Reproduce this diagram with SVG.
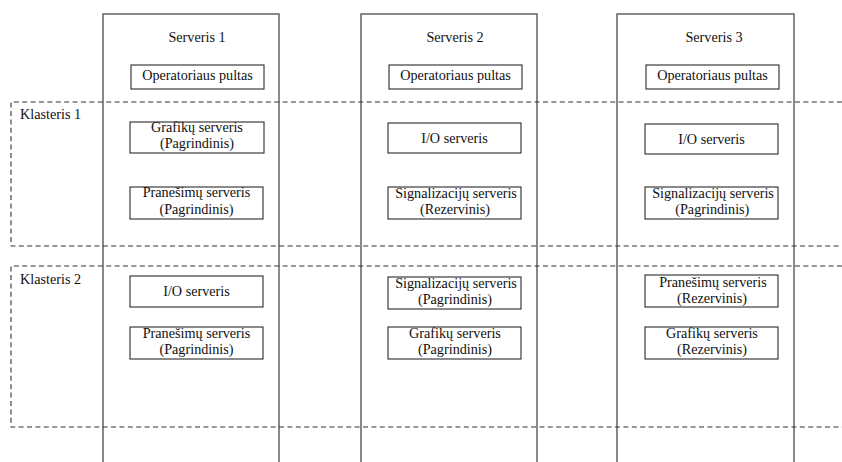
<svg xmlns="http://www.w3.org/2000/svg" width="842" height="462" viewBox="0 0 842 462">
  <style>
    .col { fill: none; stroke: #4a4a4a; stroke-width: 1.3; }
    .box { fill: #fff; stroke: #2a2a2a; stroke-width: 1.1; }
    .cl { fill: none; stroke: #333; stroke-width: 1.1; stroke-dasharray: 5 3.4; }
    text { font-family: "Liberation Serif", "Times New Roman", serif; font-size: 14.2px; fill: #111; }
    .c { text-anchor: middle; }
  </style>
  <rect width="842" height="462" fill="#fff"/>

  <!-- server columns -->
  <g id="serveris-1">
    <rect class="col" x="103" y="14" width="176" height="460"/>
    <text class="c" x="197" y="42">Serveris 1</text>
  </g>
  <g id="serveris-2">
    <rect class="col" x="361" y="14" width="176" height="460"/>
    <text class="c" x="455" y="42">Serveris 2</text>
  </g>
  <g id="serveris-3">
    <rect class="col" x="617" y="14" width="177" height="460"/>
    <text class="c" x="714" y="42">Serveris 3</text>
  </g>

  <!-- cluster boundaries (open to the right edge) -->
  <g id="klasteris-1">
    <path class="cl" d="M842,102 H11 V246 H842"/>
    <text x="20" y="119">Klasteris 1</text>
  </g>
  <g id="klasteris-2">
    <path class="cl" d="M842,266 H11 V427 H842"/>
    <text x="20" y="284">Klasteris 2</text>
  </g>

  <!-- Serveris 1 services -->
  <g id="s1-operatorius">
    <rect class="box" x="131" y="65" width="133" height="24"/>
    <text class="c" x="197.5" y="80">Operatoriaus pultas</text>
  </g>
  <g id="s1-grafiku">
    <rect class="box" x="130" y="122" width="134" height="31"/>
    <text class="c" x="197" y="132.3">Grafikų serveris</text>
    <text class="c" x="197" y="148.3">(Pagrindinis)</text>
  </g>
  <g id="s1-pranesimu-k1">
    <rect class="box" x="130" y="187" width="133" height="32"/>
    <text class="c" x="196.5" y="197.3">Pranešimų serveris</text>
    <text class="c" x="196.5" y="213.5">(Pagrindinis)</text>
  </g>
  <g id="s1-io">
    <rect class="box" x="130" y="276" width="133" height="31"/>
    <text class="c" x="196.5" y="296">I/O serveris</text>
  </g>
  <g id="s1-pranesimu-k2">
    <rect class="box" x="130" y="327" width="133" height="32"/>
    <text class="c" x="196.5" y="337.7">Pranešimų serveris</text>
    <text class="c" x="196.5" y="354">(Pagrindinis)</text>
  </g>

  <!-- Serveris 2 services -->
  <g id="s2-operatorius">
    <rect class="box" x="389" y="65" width="133" height="24"/>
    <text class="c" x="455.5" y="80">Operatoriaus pultas</text>
  </g>
  <g id="s2-io">
    <rect class="box" x="388" y="123" width="133" height="30"/>
    <text class="c" x="454.5" y="143">I/O serveris</text>
  </g>
  <g id="s2-signalizaciju-k1">
    <rect class="box" x="388" y="187" width="133" height="32"/>
    <text class="c" x="456" y="197.5">Signalizacijų serveris</text>
    <text class="c" x="455" y="213.5">(Rezervinis)</text>
  </g>
  <g id="s2-signalizaciju-k2">
    <rect class="box" x="388" y="277" width="133" height="32"/>
    <text class="c" x="456" y="288">Signalizacijų serveris</text>
    <text class="c" x="455" y="304">(Pagrindinis)</text>
  </g>
  <g id="s2-grafiku">
    <rect class="box" x="388" y="327" width="133" height="32"/>
    <text class="c" x="455" y="337.7">Grafikų serveris</text>
    <text class="c" x="455" y="354">(Pagrindinis)</text>
  </g>

  <!-- Serveris 3 services -->
  <g id="s3-operatorius">
    <rect class="box" x="646" y="65" width="133" height="24"/>
    <text class="c" x="712.5" y="80">Operatoriaus pultas</text>
  </g>
  <g id="s3-io">
    <rect class="box" x="645" y="124" width="133" height="30"/>
    <text class="c" x="711.5" y="143.5">I/O serveris</text>
  </g>
  <g id="s3-signalizaciju">
    <rect class="box" x="645" y="187" width="133" height="32"/>
    <text class="c" x="713" y="197.5">Signalizacijų serveris</text>
    <text class="c" x="712.3" y="213.5">(Pagrindinis)</text>
  </g>
  <g id="s3-pranesimu">
    <rect class="box" x="645" y="275" width="133" height="32"/>
    <text class="c" x="713" y="286.7">Pranešimų serveris</text>
    <text class="c" x="712" y="302.7">(Rezervinis)</text>
  </g>
  <g id="s3-grafiku">
    <rect class="box" x="645" y="327" width="133" height="32"/>
    <text class="c" x="712" y="337.7">Grafikų serveris</text>
    <text class="c" x="712" y="354">(Rezervinis)</text>
  </g>
</svg>
